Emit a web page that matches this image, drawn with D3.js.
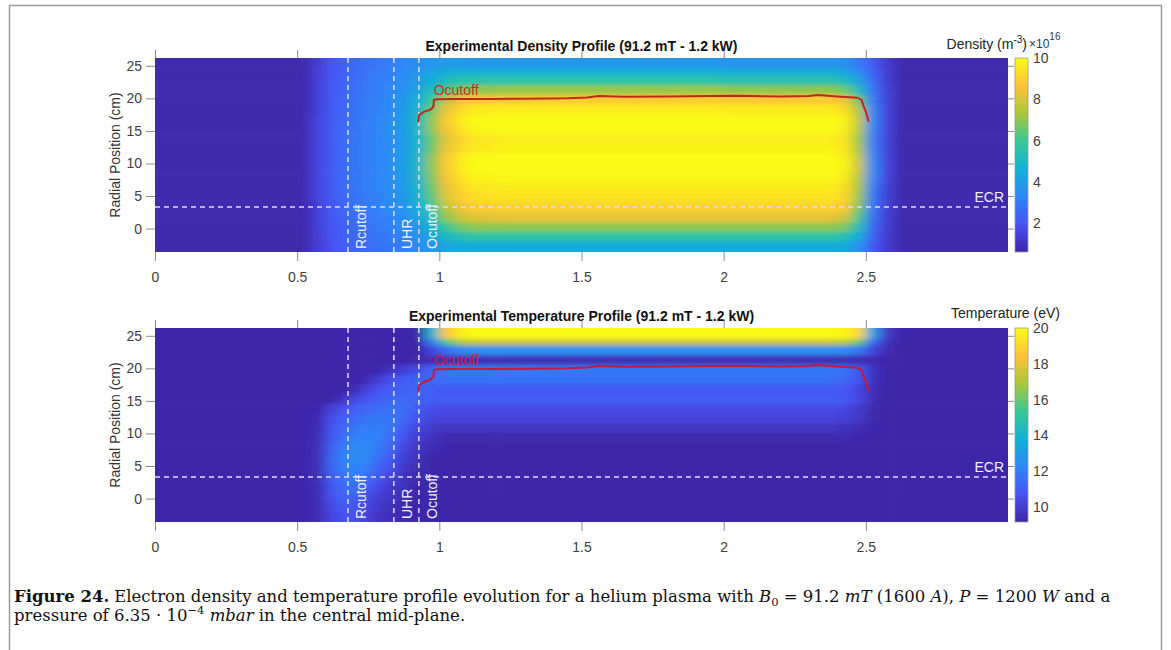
<!DOCTYPE html>
<html lang="en">
<head>
<meta charset="utf-8">
<title>Electron density and temperature profiles</title>
<script src="https://cdn.jsdelivr.net/npm/d3@7"></script>
<style>
  body { margin: 0; background: #fff; }
  svg text { font-family: "Liberation Sans", Arial, sans-serif; }
  .axis .tick text { fill: #404040; font-size: 14px; }
  .axis .tick line { stroke: #8a8a8a; }
  .axis path { display: none; }
  .caption text { font-family: "DejaVu Serif", "Liberation Serif", serif; fill: #111; }
</style>
</head>
<body>
<script>
// ---- data ----
// cell edges along the axial position and the radial position (top -> bottom)
var xEdges = [0, 0.55, 0.6, 0.65, 0.7, 0.75, 0.8, 0.85, 0.9, 0.95, 1.0, 1.05, 1.1, 1.2, 1.5, 2.0, 2.4, 2.45, 2.5, 2.55, 2.6, 3.0];
var yEdges = [26.2, 24.5, 23.5, 22, 20.5, 19, 17.5, 16, 14.5, 13, 11.5, 10, 8.5, 7, 5.5, 4, 2.5, 1, -0.5, -2, -3.6];

// density, units of 1e16 m^-3, one row per radial band (top -> bottom)
var densityGrid = [
  [0.7,1.4,2.0,2.4,2.7,2.8,3.0,3.3,3.6,3.8,3.9,3.9,3.8,3.8,3.8,3.7,3.6,3.0,2.2,1.2,0.7],
  [0.7,1.4,2.0,2.4,2.7,2.9,3.1,3.4,3.8,4.2,4.5,4.6,4.6,4.6,4.6,4.5,4.3,3.5,2.4,1.3,0.7],
  [0.7,1.5,2.1,2.5,2.8,3.0,3.2,3.5,4.0,4.6,5.2,5.5,5.6,5.6,5.6,5.5,5.2,4.2,2.6,1.3,0.7],
  [0.7,1.5,2.1,2.5,2.8,3.0,3.3,3.6,4.2,5.2,6.2,6.8,7.0,7.1,7.1,7.0,6.6,5.2,2.8,1.4,0.7],
  [0.7,1.5,2.1,2.6,2.9,3.1,3.4,3.8,4.6,6.0,7.6,8.4,8.8,8.9,8.9,8.8,8.4,6.6,3.0,1.4,0.7],
  [0.7,1.5,2.2,2.6,2.9,3.1,3.4,3.9,4.9,6.6,8.4,9.2,9.6,9.7,9.7,9.6,9.3,7.4,3.2,1.5,0.7],
  [0.7,1.6,2.2,2.6,2.9,3.2,3.5,4.0,5.1,7.0,8.8,9.6,10,10,10,10,9.8,7.8,3.3,1.5,0.7],
  [0.7,1.6,2.2,2.7,3.0,3.2,3.5,4.0,5.1,7.0,8.6,9.4,9.9,10,10,10,9.7,7.6,3.2,1.5,0.7],
  [0.7,1.6,2.2,2.7,3.0,3.2,3.5,3.9,4.9,6.6,8.2,9.0,9.5,9.7,9.7,9.7,9.4,7.2,3.0,1.4,0.7],
  [0.7,1.6,2.2,2.7,3.0,3.2,3.5,3.9,4.9,6.7,8.4,9.2,9.6,9.8,9.8,9.8,9.5,7.4,3.1,1.5,0.7],
  [0.7,1.6,2.2,2.7,3.0,3.2,3.5,4.0,5.1,7.0,8.8,9.6,10,10,10,10,9.8,7.8,3.3,1.5,0.7],
  [0.7,1.6,2.2,2.7,3.0,3.2,3.5,4.0,5.1,7.0,8.8,9.6,10,10,10,10,9.8,7.9,3.4,1.5,0.7],
  [0.7,1.6,2.2,2.7,3.0,3.2,3.5,3.9,5.0,6.8,8.6,9.4,9.8,9.9,9.9,9.9,9.6,7.6,3.2,1.5,0.7],
  [0.7,1.6,2.2,2.7,3.0,3.2,3.5,3.9,4.9,6.6,8.3,9.1,9.5,9.6,9.6,9.6,9.3,7.3,3.0,1.4,0.7],
  [0.7,1.6,2.2,2.6,2.9,3.1,3.4,3.8,4.8,6.4,8.1,8.9,9.3,9.4,9.4,9.4,9.1,7.1,2.9,1.4,0.7],
  [0.7,1.5,2.1,2.6,2.9,3.1,3.4,3.7,4.5,6.0,7.6,8.4,8.9,9.0,9.0,9.0,8.7,6.8,2.8,1.4,0.7],
  [0.7,1.5,2.1,2.5,2.8,3.0,3.2,3.5,4.2,5.5,7.0,7.8,8.2,8.3,8.3,8.3,8.0,6.2,2.7,1.3,0.7],
  [0.7,1.5,2.0,2.4,2.7,2.9,3.1,3.4,3.9,4.9,6.0,6.7,7.0,7.0,7.0,7.0,6.8,5.4,2.5,1.3,0.7],
  [0.7,1.4,2.0,2.4,2.6,2.8,3.0,3.2,3.6,4.3,5.0,5.4,5.6,5.6,5.6,5.6,5.4,4.4,2.3,1.2,0.7],
  [0.7,1.4,1.9,2.3,2.5,2.7,2.9,3.1,3.4,3.9,4.2,4.4,4.4,4.4,4.4,4.4,4.3,3.6,2.1,1.2,0.7]
];

// temperature, eV, same cells
var temperatureGrid = [
  [9.2,9.2,9.2,9.2,9.2,9.2,9.2,9.2,9.2,14.0,18.5,19.6,20,20,20,20,19.8,19.0,13.0,9.8,9.2],
  [9.2,9.2,9.2,9.2,9.2,9.2,9.2,9.2,9.2,12.0,15.5,17.0,17.5,17.5,17.5,17.5,17.3,16.0,11.5,9.5,9.2],
  [9.2,9.2,9.2,9.2,9.2,9.2,9.2,9.2,9.2,10.2,11.5,12.3,12.5,12.5,12.5,12.5,12.3,11.8,10.2,9.3,9.2],
  [9.2,9.2,9.2,9.2,9.2,9.2,9.2,9.2,9.3,9.4,9.4,9.4,9.4,9.4,9.4,9.4,9.4,9.4,9.3,9.2,9.2],
  [9.2,9.2,9.2,9.2,9.2,9.2,9.6,10.0,10.5,11.2,11.8,11.8,11.8,11.8,11.8,11.8,11.6,11.0,9.6,9.2,9.2],
  [9.2,9.2,9.2,9.2,9.2,9.8,10.6,11.0,11.2,11.4,11.6,11.6,11.6,11.6,11.6,11.6,11.4,10.8,9.5,9.2,9.2],
  [9.2,9.2,9.2,9.2,9.8,10.6,11.0,11.2,11.2,11.0,10.9,10.9,10.9,10.9,10.9,10.9,10.8,10.3,9.4,9.2,9.2],
  [9.2,9.2,9.2,9.9,10.6,11.0,11.3,11.4,11.2,11.0,11.0,11.0,11.0,11.0,11.0,11.0,10.9,10.4,9.4,9.2,9.2],
  [9.2,9.2,10.2,10.8,11.2,11.5,11.6,11.5,11.0,10.5,10.4,10.4,10.4,10.4,10.4,10.4,10.3,9.9,9.3,9.2,9.2],
  [9.2,9.3,10.6,11.2,11.6,11.8,11.8,11.4,10.6,10.2,10.2,10.2,10.2,10.2,10.2,10.2,10.1,9.8,9.3,9.2,9.2],
  [9.2,9.4,10.8,11.5,11.9,12.0,11.8,11.0,10.2,9.8,9.7,9.7,9.7,9.7,9.7,9.7,9.6,9.4,9.2,9.2,9.2],
  [9.2,9.4,11.0,11.8,12.2,12.1,11.6,10.6,9.9,9.5,9.3,9.3,9.3,9.3,9.3,9.3,9.3,9.2,9.2,9.2,9.2],
  [9.2,9.5,11.2,12.1,12.4,12.0,11.3,10.3,9.7,9.4,9.2,9.2,9.2,9.2,9.2,9.2,9.2,9.2,9.2,9.2,9.2],
  [9.2,9.5,11.4,12.3,12.5,11.8,11.0,10.0,9.5,9.2,9.2,9.2,9.2,9.2,9.2,9.2,9.2,9.2,9.2,9.2,9.2],
  [9.2,9.5,11.3,12.2,12.2,11.4,10.6,9.8,9.4,9.2,9.2,9.2,9.2,9.2,9.2,9.2,9.2,9.2,9.2,9.2,9.2],
  [9.2,9.5,11.1,11.9,11.8,11.0,10.2,9.6,9.3,9.2,9.2,9.2,9.2,9.2,9.2,9.2,9.2,9.2,9.2,9.2,9.2],
  [9.2,9.4,10.9,11.6,11.3,10.5,9.9,9.5,9.2,9.2,9.2,9.2,9.2,9.2,9.2,9.2,9.2,9.2,9.2,9.2,9.2],
  [9.2,9.4,10.7,11.3,10.9,10.1,9.7,9.4,9.2,9.2,9.2,9.2,9.2,9.2,9.2,9.2,9.2,9.2,9.2,9.2,9.2],
  [9.2,9.4,10.5,11.0,10.6,9.9,9.5,9.3,9.2,9.2,9.2,9.2,9.2,9.2,9.2,9.2,9.2,9.2,9.2,9.2,9.2],
  [9.2,9.4,10.3,10.8,10.4,9.7,9.4,9.3,9.2,9.2,9.2,9.2,9.2,9.2,9.2,9.2,9.2,9.2,9.2,9.2,9.2]
];

// O-cutoff contour
var ocutoffX = [0.926,0.927,0.929,0.938,0.949,0.967,0.979,0.981,0.99,1.05,1.18,1.3,1.45,1.52,1.56,1.65,1.8,1.95,2.05,2.2,2.3,2.33,2.4,2.47,2.485,2.493,2.50,2.505,2.51];
var ocutoffY = [16.3,16.9,17.45,17.7,18.0,18.2,18.7,19.75,19.86,19.9,19.9,19.95,20.0,20.15,20.35,20.25,20.3,20.35,20.4,20.3,20.35,20.5,20.3,20.1,19.75,18.7,17.96,17.2,16.4];

var markerNames = ["Rcutoff", "UHR", "Ocutoff"];
var markerX = [0.679, 0.84, 0.928];
var ecrY = 3.3;

var xTicks = [0, 0.5, 1, 1.5, 2, 2.5];
var yTicks = [0, 5, 10, 15, 20, 25];
var densityTicks = [2, 4, 6, 8, 10];
var temperatureTicks = [10, 12, 14, 16, 18, 20];

// parula colormap anchors
var parulaColors = ["#3e26a8", "#4852f4", "#2e87f7", "#12b1d6", "#37c897", "#abc739", "#fec338", "#f9fb14"];

// ---- layout ----
var W = 1171, H = 650;
var plotL = 155, plotR = 1008, panelTop = 58, panelH = 194, panelGap = 270;
var cbX = 1015, cbW = 13;

var svg = d3.select("body").append("svg").attr("width", W).attr("height", H);
var defs = svg.append("defs");

defs.append("filter").attr("id", "soft")
    .attr("x", "-5%").attr("y", "-5%").attr("width", "110%").attr("height", "110%")
  .append("feGaussianBlur").attr("stdDeviation", "6 2");

// frame of the figure box
svg.append("path")
    .attr("d", "M9.5," + H + "V5.5H1161.5V" + H)
    .attr("fill", "none").attr("stroke", "#9a9a9a").attr("stroke-width", 1.5);

var x = d3.scaleLinear().domain([0, 3]).range([plotL, plotR]);

function parula(lo, hi) {
  var dom = parulaColors.map(function (c, i) { return lo + (hi - lo) * i / (parulaColors.length - 1); });
  return d3.scaleLinear().domain(dom).range(parulaColors).clamp(true);
}

var panels = [
  {grid: densityGrid, lo: 0.6, hi: 10, ticks: densityTicks,
   title: "Experimental Density Profile (91.2 mT - 1.2 kW)",
   lineColor: "#c4261c", labelColor: "#c8301e"},
  {grid: temperatureGrid, lo: 9.15, hi: 20, ticks: temperatureTicks,
   title: "Experimental Temperature Profile (91.2 mT - 1.2 kW)",
   lineColor: "#c8173c", labelColor: "#d01a4e"}
];

panels.forEach(function (p, k) {
  var top = panelTop + k * panelGap, bot = top + panelH;
  var y = d3.scaleLinear().domain([-3.6, 26.2]).range([bot, top]);
  var color = parula(p.lo, p.hi);
  var g = svg.append("g");

  // heat map cells
  defs.append("clipPath").attr("id", "clip" + k)
    .append("rect").attr("x", plotL).attr("y", top).attr("width", plotR - plotL).attr("height", panelH);

  var cells = [];
  p.grid.forEach(function (row, i) {
    row.forEach(function (v, j) {
      cells.push({i: i, j: j, x0: xEdges[j], x1: xEdges[j + 1], yTop: yEdges[i], yBot: yEdges[i + 1], v: v});
    });
  });
  var nr = p.grid.length, nc = p.grid[0].length, ext = 18;
  g.append("g").attr("clip-path", "url(#clip" + k + ")")
    .append("g").attr("filter", "url(#soft)")
    .selectAll("rect").data(cells).join("rect")
      .attr("x", function (d) { return x(d.x0) - (d.j === 0 ? ext : 0); })
      .attr("width", function (d) { return x(d.x1) - x(d.x0) + (d.j === 0 ? ext : 0) + (d.j === nc - 1 ? ext : 0) + 0.6; })
      .attr("y", function (d) { return y(d.yTop) - (d.i === 0 ? ext : 0); })
      .attr("height", function (d) { return y(d.yBot) - y(d.yTop) + (d.i === 0 ? ext : 0) + (d.i === nr - 1 ? ext : 0) + 0.6; })
      .attr("fill", function (d) { return color(d.v); });

  // axes (ticks point outward)
  g.append("g").attr("class", "axis").attr("transform", "translate(0," + bot + ")")
    .call(d3.axisBottom(x).tickValues(xTicks).tickSize(9).tickPadding(11).tickFormat(d3.format("")));
  g.append("g").attr("class", "axis").attr("transform", "translate(0," + top + ")")
    .call(d3.axisTop(x).tickValues(xTicks).tickSize(8).tickFormat(""));
  g.append("g").attr("class", "axis").attr("transform", "translate(" + plotL + ",0)")
    .call(d3.axisLeft(y).tickValues(yTicks).tickSize(9).tickPadding(4));
  g.append("g").attr("class", "axis").attr("transform", "translate(" + plotR + ",0)")
    .call(d3.axisRight(y).tickValues(yTicks).tickSize(6).tickFormat(""));

  g.append("text")
    .attr("transform", "translate(115," + (top + bot) / 2 + ") rotate(-90)")
    .attr("text-anchor", "middle").attr("dy", "0.35em")
    .style("font-size", "14px").style("fill", "#333")
    .text("Radial Position (cm)");

  g.append("text")
    .attr("x", (plotL + plotR) / 2).attr("y", top - 7)
    .attr("text-anchor", "middle")
    .style("font-size", "14px").style("font-weight", "bold").style("fill", "#111")
    .text(p.title);

  // dashed markers
  var dash = "5,4", dashColor = "#dedcff";
  markerX.forEach(function (mx, m) {
    g.append("line")
      .attr("x1", x(mx)).attr("x2", x(mx)).attr("y1", top).attr("y2", bot)
      .attr("stroke", dashColor).attr("stroke-width", 1.5).attr("stroke-dasharray", dash);
    g.append("text")
      .attr("transform", "translate(" + (x(mx) + 13) + "," + (bot - 3) + ") rotate(-90)")
      .attr("dy", "0.35em")
      .style("font-size", "14px").style("fill", "#f2f0ff")
      .text(markerNames[m]);
  });
  g.append("line")
    .attr("x1", plotL).attr("x2", plotR).attr("y1", y(ecrY)).attr("y2", y(ecrY))
    .attr("stroke", dashColor).attr("stroke-width", 1.5).attr("stroke-dasharray", dash);
  g.append("text")
    .attr("x", plotR - 4).attr("y", y(ecrY) - 5)
    .attr("text-anchor", "end")
    .style("font-size", "14px").style("fill", "#f2f0ff")
    .text("ECR");

  // O-cutoff contour
  var line = d3.line().x(function (d) { return x(d[0]); }).y(function (d) { return y(d[1]); });
  g.append("path")
    .datum(ocutoffX.map(function (v, i) { return [v, ocutoffY[i]]; }))
    .attr("d", line).attr("fill", "none")
    .attr("stroke", p.lineColor).attr("stroke-width", 2);
  g.append("text")
    .attr("x", x(0.98)).attr("y", y(20.45))
    .style("font-size", "14px").style("fill", p.labelColor)
    .text("Ocutoff");

  // colour bar
  var cy = d3.scaleLinear().domain([p.lo, p.hi]).range([bot, top]);
  var gid = "cb" + k;
  var grad = defs.append("linearGradient").attr("id", gid)
    .attr("x1", 0).attr("y1", 1).attr("x2", 0).attr("y2", 0);
  parulaColors.forEach(function (c, i) {
    grad.append("stop").attr("offset", (i / (parulaColors.length - 1) * 100) + "%").attr("stop-color", c);
  });
  g.append("rect")
    .attr("x", cbX).attr("y", top).attr("width", cbW).attr("height", panelH)
    .attr("fill", "url(#" + gid + ")").attr("stroke", "#9a9a9a").attr("stroke-width", 0.8);
  g.append("g").attr("class", "axis").attr("transform", "translate(" + (cbX + cbW) + ",0)")
    .call(d3.axisRight(cy).tickValues(p.ticks).tickSize(0).tickPadding(5));

  if (k === 0) {
    var t = g.append("text").attr("x", 1027).attr("y", top - 9).attr("text-anchor", "end")
      .style("font-size", "14px").style("fill", "#222");
    t.append("tspan").text("Density (m");
    t.append("tspan").attr("dy", -6).style("font-size", "10px").text("-3");
    t.append("tspan").attr("dy", 6).text(")");
    var e = g.append("text").attr("x", 1029).attr("y", top - 10)
      .style("font-size", "12px").style("fill", "#333");
    e.append("tspan").text("\u00d710");
    e.append("tspan").attr("dy", -8).style("font-size", "10px").text("16");
  } else {
    g.append("text").attr("x", 1060).attr("y", top - 10).attr("text-anchor", "end")
      .style("font-size", "14px").style("fill", "#222")
      .text("Temperature (eV)");
  }
});

// ---- caption ----
var cap = svg.append("g").attr("class", "caption");
function captionLine(x0, yPos, parts) {
  var t = cap.append("text").attr("x", x0).attr("y", yPos).style("font-size", "16.5px");
  parts.forEach(function (p) {
    var s = t.append("tspan").text(p.t);
    if (p.i) s.style("font-style", "italic");
    if (p.dy) s.attr("dy", p.dy);
    if (p.fs) s.style("font-size", p.fs);
  });
  return t;
}
var figLabel = cap.append("text").attr("x", 14).attr("y", 602)
  .style("font-size", "16.5px").style("font-weight", "bold")
  .text("Figure 24.");
var labelEnd = 14 + figLabel.node().getComputedTextLength() + 5;
captionLine(labelEnd, 602, [
  {t: "Electron density and temperature profile evolution for a helium plasma with "},
  {t: "B", i: true},
  {t: "0", dy: 4, fs: "11.5px"},
  {t: " = 91.2 ", dy: -4},
  {t: "mT", i: true},
  {t: " (1600 "},
  {t: "A", i: true},
  {t: "), "},
  {t: "P", i: true},
  {t: " = 1200 "},
  {t: "W", i: true},
  {t: " and a"}
]);
captionLine(14, 621, [
  {t: "pressure of 6.35 \u00b7 10"},
  {t: "\u22124", dy: -7, fs: "11.5px"},
  {t: " ", dy: 7},
  {t: "mbar", i: true},
  {t: " in the central mid-plane."}
]);
</script>
</body>
</html>
